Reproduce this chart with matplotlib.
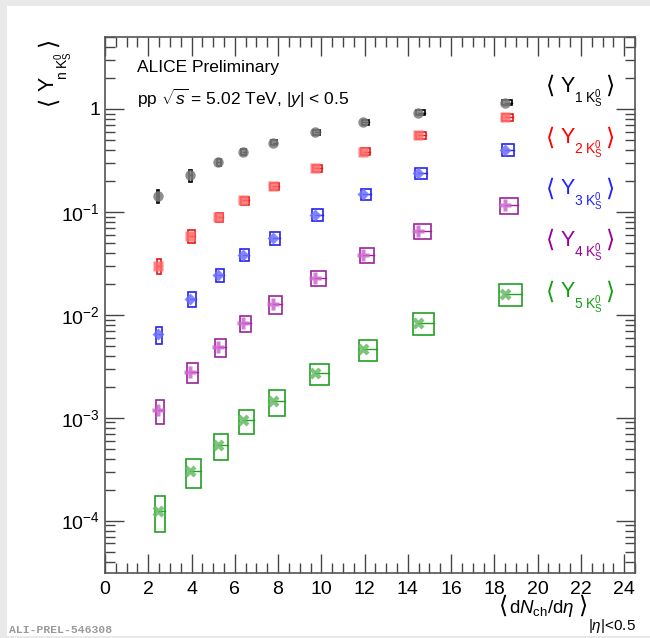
import matplotlib
matplotlib.use("Agg")
import matplotlib.pyplot as plt
from matplotlib.patches import Rectangle
from matplotlib.ticker import MultipleLocator, LogLocator, NullFormatter
import numpy as np

plt.rcParams["font.family"] = ["Liberation Sans", "DejaVu Sans"]
plt.rcParams["mathtext.fontset"] = "custom"
plt.rcParams["mathtext.rm"] = "Liberation Sans"
plt.rcParams["mathtext.it"] = "Liberation Sans:italic"
plt.rcParams["mathtext.bf"] = "Liberation Sans:bold"

W, H = 650, 638

# <dNch/deta> of the multiplicity classes
dndeta = [2.44, 3.93, 5.21, 6.36, 7.75, 9.71, 11.94, 14.49, 18.48]

# <Y_n K0S> values
y1 = [0.143, 0.226, 0.305, 0.384, 0.470, 0.597, 0.743, 0.921, 1.15]
y2 = [0.0299, 0.0581, 0.0889, 0.129, 0.177, 0.267, 0.384, 0.558, 0.830]
y3 = [0.00646, 0.01416, 0.0242, 0.0382, 0.0556, 0.0936, 0.148, 0.238, 0.399]
y4 = [0.00118, 0.00278, 0.00486, 0.00832, 0.01265, 0.0227, 0.0379, 0.0654, 0.116]
y5 = [1.25e-4, 3.02e-4, 5.41e-4, 9.40e-4, 1.45e-3, 2.71e-3, 4.62e-3, 8.40e-3, 0.0161]

# relative systematic uncertainties (box half heights)
sys1 = [0.15, 0.137, 0.08, 0.07, 0.06, 0.055, 0.05, 0.05, 0.053]
sys2 = [0.16, 0.137, 0.10, 0.09, 0.085, 0.08, 0.08, 0.08, 0.08]
sys3 = [0.188, 0.167, 0.145, 0.134, 0.134, 0.128, 0.123, 0.13, 0.134]
sys4 = [0.26, 0.213, 0.196, 0.181, 0.192, 0.163, 0.167, 0.167, 0.174]
sys5 = [0.383, 0.314, 0.29, 0.266, 0.276, 0.238, 0.234, 0.238, 0.238]

# box widths in dNch/deta units
bw1 = [0.10, 0.12, 0.20, 0.23, 0.26, 0.30, 0.33, 0.38, 0.42]
bw2 = [0.22, 0.29, 0.35, 0.38, 0.40, 0.42, 0.44, 0.48, 0.52]
bw3 = [0.25, 0.36, 0.38, 0.40, 0.45, 0.50, 0.50, 0.55, 0.59]
bw4 = [0.36, 0.48, 0.51, 0.54, 0.60, 0.68, 0.68, 0.77, 0.82]
bw5 = [0.46, 0.66, 0.66, 0.71, 0.74, 0.85, 0.85, 0.98, 1.05]

orders = ["1", "2", "3", "4", "5"]

series = [
    # values, sys, widths, marker, marker colour, box colour, text colour, ms
    (y1, sys1, bw1, "o", "#7a7a7a", "#000000", "#000000", 7.5),
    (y2, sys2, bw2, "s", "#ff6b6b", "#ee1111", "#ff0000", 7.0),
    (y3, sys3, bw3, "D", "#6f6fff", "#2222ee", "#2222ff", 6.0),
    (y4, sys4, bw4, "P", "#cc66cc", "#992299", "#990099", 8.5),
    (y5, sys5, bw5, "X", "#66bb66", "#22a022", "#11a011", 8.5),
]

BRACKET_FONT = ["DejaVu Sans", "Noto Sans"]
BR = 17


def px(x, y):
    return x / W, 1 - y / H


fig = plt.figure(figsize=(W / 100, H / 100), dpi=100)
fig.patch.set_facecolor("#e9e9e9")
fig.patches.append(Rectangle((7 / W, 2 / H), 1, 630 / H, transform=fig.transFigure,
                             facecolor="white", edgecolor="none", zorder=-10))

ax = fig.add_axes([105 / W, 1 - 573 / H, 530 / W, 536 / H])
ax.set_xlim(0, 24.5)
ax.set_ylim(3.1e-5, 5.0)
ax.set_yscale("log")

x = np.array(dndeta)
for vals, rel, bw, mk, mc, bc, tc, ms in series:
    vals = np.array(vals)
    rel = np.array(rel)
    bw = np.array(bw)
    for xi, yi, ri, wi in zip(x, vals, rel, bw):
        x0 = xi - 0.25 * wi
        ax.add_patch(Rectangle((x0, yi * (1 - ri)), wi, 2 * ri * yi, facecolor="none",
                               edgecolor=bc, lw=1.2, zorder=3))
        ax.plot([xi, x0 + wi], [yi, yi], color=bc, lw=1.0, zorder=3)
    ax.plot(x, vals, ls="none", marker=mk, ms=ms, mfc=mc, mec="none", alpha=0.85, zorder=4)

# legend-like labels on the right
for i, (n, s) in enumerate(zip(orders, series)):
    cy = 86 + 51.4 * i
    c = s[6]
    fig.text(*px(551, cy), "\u27e8", ha="center", va="center", fontsize=BR,
             color=c, family=BRACKET_FONT)
    fig.text(*px(561, cy), "Y", ha="left", va="center", fontsize=15.5, color=c)
    fig.text(*px(574, cy + 17), n + r"$\ \mathrm{K}^{0}_{\mathrm{S}}$", ha="left",
             va="baseline", fontsize=10, color=c)
    fig.text(*px(610, cy), "\u27e9", ha="center", va="center", fontsize=BR,
             color=c, family=BRACKET_FONT)

ax.text(0.06, 0.943, "ALICE Preliminary", transform=ax.transAxes, fontsize=12.5, va="center")
ax.text(0.06, 0.885, r"pp $\sqrt{s}$ = 5.02 TeV, $|y|$ < 0.5", transform=ax.transAxes,
        fontsize=12.5, va="center")

ax.xaxis.set_major_locator(MultipleLocator(2))
ax.xaxis.set_minor_locator(MultipleLocator(0.5))
ax.yaxis.set_minor_locator(LogLocator(base=10, subs=np.arange(2, 10), numticks=12))
ax.yaxis.set_minor_formatter(NullFormatter())
ax.set_yticks([1e-4, 1e-3, 1e-2, 1e-1, 1])
ax.set_yticklabels([r"$10^{-4}$", r"$10^{-3}$", r"$10^{-2}$", r"$10^{-1}$", "1"])

ax.tick_params(which="both", direction="in", top=True, right=True, labelsize=14, color="#444444")
ax.tick_params(which="major", length=14, width=1.0)
ax.tick_params(which="minor", length=7, width=1.0)
ax.tick_params(axis="x", pad=6)
for sp in ax.spines.values():
    sp.set_color("#555555")
    sp.set_linewidth(1.2)

# y axis title, rotated, top aligned
fig.text(*px(48, 100), "\u27e8", rotation=90, ha="center", va="center", fontsize=BR,
         family=BRACKET_FONT)
fig.text(*px(48, 84), "Y", rotation=90, ha="center", va="center", fontsize=15.5)
fig.text(*px(64, 66), r"n$\ \mathrm{K}^{0}_{\mathrm{S}}$", rotation=90, ha="center",
         va="center", fontsize=10)
fig.text(*px(48, 42), "\u27e9", rotation=90, ha="center", va="center", fontsize=BR,
         family=BRACKET_FONT)

# x axis title, right aligned
fig.text(*px(504, 606), "\u27e8", ha="center", va="center", fontsize=BR,
         family=BRACKET_FONT)
fig.text(*px(509, 613), r"$\mathrm{d}N_{\mathrm{ch}}/\mathrm{d}\eta$", ha="left",
         va="baseline", fontsize=13.5)
fig.text(*px(583, 606), "\u27e9", ha="center", va="center", fontsize=BR,
         family=BRACKET_FONT)
fig.text(*px(588, 630), r"$|\eta|$<0.5", ha="left", va="baseline", fontsize=11)

fig.text(*px(9, 630), "ALI-PREL-546308", fontsize=8.2, color="#999999",
         family=["Liberation Mono", "DejaVu Sans Mono"], fontweight="bold", va="center")

fig.savefig("out.png", dpi=100, facecolor=fig.get_facecolor())
